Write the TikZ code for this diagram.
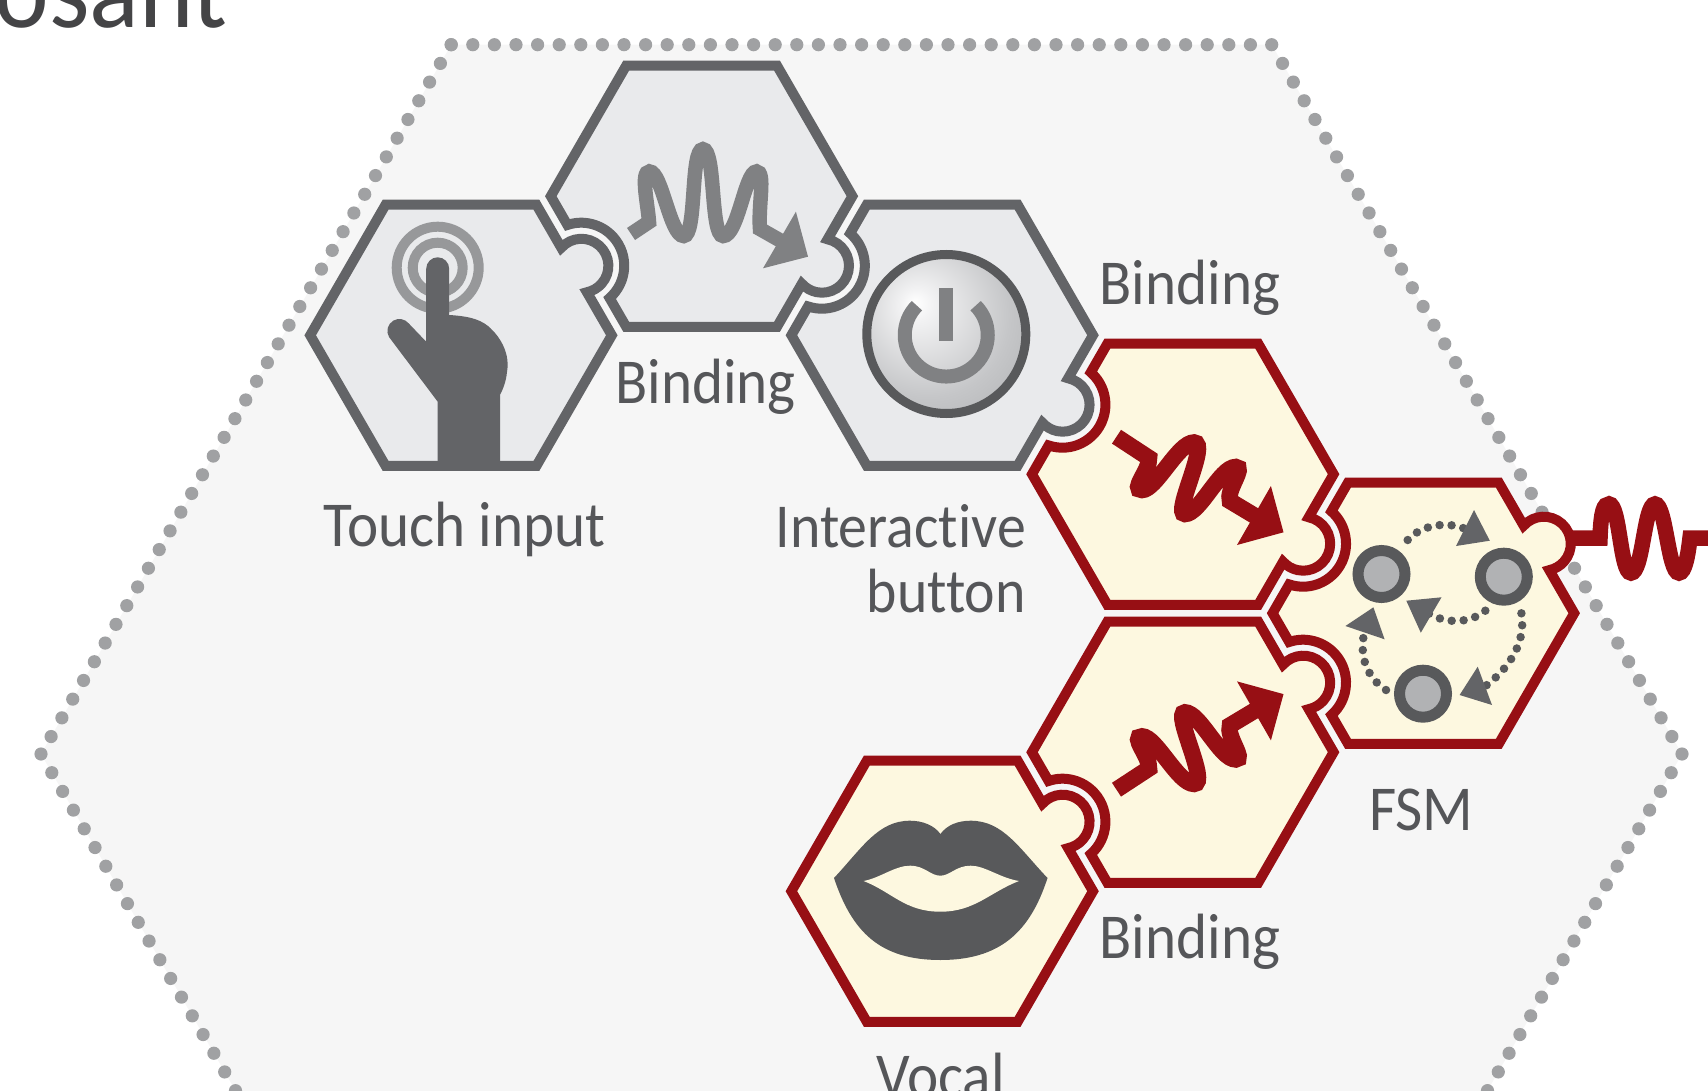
\documentclass[tikz,border=0pt]{standalone}
\usepackage{fontspec}
\setmainfont[FakeStretch=0.925,Ligatures=NoCommon]{Carlito}
\definecolor{bgc}{HTML}{F6F6F6}
\definecolor{dotc}{HTML}{A0A1A3}
\definecolor{grayline}{HTML}{636467}
\definecolor{grayfill}{HTML}{E9EAEC}
\definecolor{redline}{HTML}{970F14}
\definecolor{creamfill}{HTML}{FDF8E0}
\definecolor{midgray}{HTML}{808183}
\definecolor{ringgray}{HTML}{97989A}
\definecolor{darkicon}{HTML}{58595B}
\definecolor{nodefill}{HTML}{B1B2B4}
\definecolor{labelc}{HTML}{555659}
\definecolor{titlec}{HTML}{444446}
\definecolor{btnA}{HTML}{F2F2F3}
\definecolor{btnB}{HTML}{C5C6C8}
\definecolor{btnC}{HTML}{A3A4A6}
\pgfdeclareradialshading{btnshade}{\pgfpoint{-10bp}{10bp}}{color(0bp)=(white);color(5bp)=(btnA);color(26bp)=(btnB);color(50bp)=(btnC);color(65bp)=(btnC)}
\tikzset{
  grayhex/.style={draw=grayline,fill=grayfill,line width=10pt,miter limit=10},
  redhex/.style={draw=redline,fill=creamfill,line width=10pt,miter limit=10},
  lab/.style={font=\fontsize{64}{65}\selectfont,text=labelc,inner sep=0pt},
  labsmall/.style={font=\fontsize{62.5}{65}\selectfont,text=labelc,inner sep=0pt},
  fsmnode/.style={draw=darkicon,fill=nodefill,line width=11pt},
  fsmdots/.style={draw=darkicon,line width=8.5pt,line cap=round,dash pattern=on 0pt off 12pt},
  fsmhead/.style={fill=grayline},
  bigdots/.style={draw=dotc,line width=13.2pt,line cap=round,dash pattern=on 0pt off 21.6pt},
}
\def\HR{150.8}
\newcommand\Eo[1]{}
\newcommand\Ek[1]{-- ({130.6*cos(#1)+25.66*sin(#1)},{130.6*sin(#1)-25.66*cos(#1)}) arc[start angle={#1-108.13},end angle={#1+108.13},radius=27pt]}
\newcommand\En[1]{-- ({130.6*cos(#1)+42.17*sin(#1)},{130.6*sin(#1)-42.17*cos(#1)}) arc[start angle={#1+258.73},end angle={#1+101.27},radius=43pt]}
% centre x, centre y, style, edges at 30, 150, 210, 330
\newcommand\HexCell[7]{%
  \begin{scope}[shift={(#1,#2)}]
    \path[#3] (0:\HR) #4{30} -- (60:\HR) -- (120:\HR) #5{150} -- (180:\HR) #6{210} -- (240:\HR) -- (300:\HR) #7{330} -- cycle;
  \end{scope}}
\begin{document}
\begin{tikzpicture}[x=1pt,y=1pt,yscale=-1]
\useasboundingbox (0,0) rectangle (1708,1091);
\clip (0,0) rectangle (1708,1091);
% title fragment
\node[font=\fontsize{112}{112}\selectfont,text=titlec,inner sep=0pt,anchor=base east] (title) at (228,28) {posant};
% large dotted hexagon
\path[fill=bgc] (451.2,44.7) -- (1271.7,44.7) -- (1682,754) -- (1271.7,1464) -- (451.2,1464) -- (41,754) -- cycle;
\path[bigdots] (451.2,44.7) -- (1271.7,44.7);
\path[bigdots] (1271.7,44.7) -- (1682,754);
\path[bigdots] (1682,754) -- (1271.7,1464);
\path[bigdots] (451.2,44.7) -- (41,754);
\path[bigdots] (41,754) -- (451.2,1464);
% hexagons
\HexCell{461}{335.3}{grayhex}{\Eo}{\Eo}{\Eo}{\Ek}
\HexCell{701.6}{196.2}{grayhex}{\Ek}{\En}{\Eo}{\Eo}
\HexCell{942.2}{335.2}{grayhex}{\Ek}{\Eo}{\En}{\Eo}
\HexCell{1182.8}{474.2}{redhex}{\Ek}{\Eo}{\En}{\Eo}
\HexCell{1182.8}{752.2}{redhex}{\Eo}{\En}{\Eo}{\Ek}
\HexCell{942.2}{891.2}{redhex}{\Eo}{\Eo}{\Eo}{\Ek}
\HexCell{1423.4}{613.2}{redhex}{\Eo}{\En}{\En}{\Ek}
% touch icon
\draw[ringgray,line width=10pt] (437.7,267.7) circle[radius=41pt];
\draw[ringgray,line width=10pt] (437.7,267.7) circle[radius=25pt];
\fill[grayline] (426.2,268.8) arc[start angle=180,end angle=360,radius=11.5pt] -- (449.2,315)
  .. controls (465,316) and (478,318) .. (488,326) .. controls (502,338) and (510,355) .. (507,372) .. controls (506,382) and (503,389) .. (500,395)
  -- (500,470.5) -- (437.7,470.5) -- (437.7,401.7) -- (389,337) arc[start angle=150,end angle=320,radius=12pt] -- (426.2,341.7) -- cycle;
% gray squiggle
\draw[midgray,line width=14.5pt] (631,234) -- (649,222) .. controls (648,205) and (640,171.5) .. (649.5,171.5)
  .. controls (662,171.5) and (670,236) .. (683.7,236) .. controls (697,236) and (690,149.2) .. (702.9,149.2)
  .. controls (716,149.2) and (710,236) .. (723.2,236) .. controls (738,236) and (745,171.5) .. (756.5,171.5)
  .. controls (766,171.5) and (758,205) .. (760,229) -- (790,246);
\fill[midgray] (808,256.7) -- (795.9,211.7) -- (763,268.3) -- cycle;
% power button
\shade[shading=btnshade] (946.3,334) circle[radius=79.5pt];
\draw[darkicon,line width=9pt] (946.3,334) circle[radius=79.5pt];
\draw[midgray,line width=14pt] (975.6,305.7) arc[start angle=-45,end angle=225,radius=41.5pt];
\fill[midgray] (939.3,287.7) rectangle (953.3,340.7);
% red squiggles
\draw[redline,line width=16.5pt] (1116.5,436.7) -- (1149,458) .. controls (1150,470) and (1130,490) .. (1142,490)
  .. controls (1156,490) and (1178,442.5) .. (1194,442.5) .. controls (1210,442.5) and (1172,514) .. (1185,514)
  .. controls (1200,514) and (1220,467) .. (1235.7,467) .. controls (1246,467) and (1226,490) .. (1230,501) -- (1265,522);
\fill[redline] (1283.5,532.3) -- (1270.9,486) -- (1237,545) -- cycle;
\draw[redline,line width=16.5pt] (1116.5,789.7) -- (1149,768.4) .. controls (1150,756.4) and (1130,736.4) .. (1142,736.4)
  .. controls (1156,736.4) and (1178,783.9) .. (1194,783.9) .. controls (1210,783.9) and (1172,712.4) .. (1185,712.4)
  .. controls (1200,712.4) and (1220,759.4) .. (1235.7,759.4) .. controls (1246,759.4) and (1226,736.4) .. (1230,725.4) -- (1265,704.4);
\fill[redline] (1283.5,694.1) -- (1270.9,740.4) -- (1237,681.4) -- cycle;
% outgoing squiggle
\draw[redline,line width=15.5pt] (1570,538) -- (1600,538) .. controls (1601,510) and (1604,504) .. (1609,504)
  .. controls (1620,504) and (1620,573) .. (1631,573) .. controls (1643,573) and (1644,504) .. (1655,504)
  .. controls (1666,504) and (1668,573) .. (1679,573) .. controls (1685,573) and (1688,555) .. (1690,538) -- (1708,538);
% FSM
\draw[fsmdots] (1407.7,540) .. controls (1420,526) and (1447,519) .. (1470,531);
\fill[fsmhead] (1489.8,540.7) -- (1474,510) -- (1456,546) -- cycle;
\draw[fsmdots] (1485.3,610.7) .. controls (1472,622) and (1448,626) .. (1426,612);
\fill[fsmhead] (1406.3,600.7) -- (1441.5,597.3) -- (1420.8,632.7) -- cycle;
\draw[fsmdots] (1521.4,613.3) .. controls (1526,640) and (1512,668) .. (1480,690);
\fill[fsmhead] (1459.6,695) -- (1477.7,666.7) -- (1492,705) -- cycle;
\draw[fsmdots] (1386,690) .. controls (1370,680) and (1356,658) .. (1366,626);
\fill[fsmhead] (1373.4,607.3) -- (1345.4,626) -- (1384.6,639.3) -- cycle;
\draw[fsmnode] (1381.5,574) circle[radius=23.5pt];
\draw[fsmnode] (1503.8,576.7) circle[radius=23.5pt];
\draw[fsmnode] (1423,693.7) circle[radius=23.5pt];
% lips
\fill[darkicon] (834,878) .. controls (862,848) and (878,820.7) .. (910,820.7) .. controls (922,820.7) and (934,825) .. (940.4,834)
  .. controls (947,825) and (958,820.7) .. (970.7,820.7) .. controls (1003,820.7) and (1019,848) .. (1047.5,878)
  .. controls (1030,932) and (1000,960) .. (940.4,960) .. controls (880,960) and (852,932) .. (834,878) -- cycle;
\fill[creamfill] (863.6,881) .. controls (880,878) and (895,865.7) .. (910,865.7) .. controls (925,865.7) and (930,875.7) .. (940.4,875.7)
  .. controls (950,875.7) and (956,865.7) .. (970.7,865.7) .. controls (985,865.7) and (1000,878) .. (1019,881)
  .. controls (990,892) and (975,911.7) .. (940.4,911.7) .. controls (905,911.7) and (892,892) .. (863.6,881) -- cycle;
% labels
\node[lab,anchor=base] (l1) at (464.6,546.7) {Touch input};
\node[lab,anchor=base] (l2) at (705.7,403.3) {Binding};
\node[lab,anchor=base] (l3) at (1190,305) {Binding};
\node[labsmall,anchor=base east] (l4) at (1026,547) {Interactive};
\node[labsmall,anchor=base east] (l5) at (1026,612) {button};
\node[lab,anchor=base] (l6) at (1421.5,830) {FSM};
\node[lab,anchor=base] (l7) at (1190,958.5) {Binding};
\node[lab,anchor=base] (l8) at (940.5,1097) {Vocal};
\end{tikzpicture}
\end{document}
